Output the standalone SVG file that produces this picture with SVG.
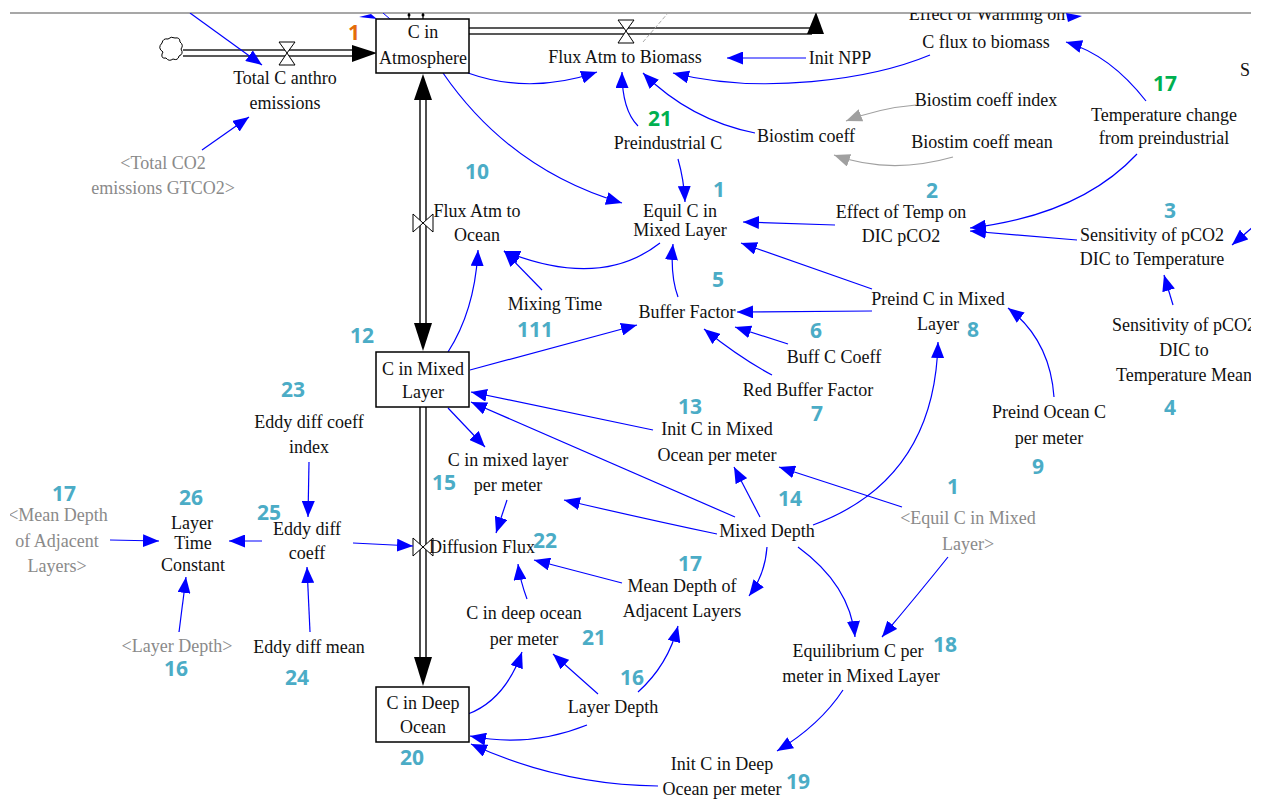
<svg xmlns="http://www.w3.org/2000/svg" width="1261" height="801" viewBox="0 0 1261 801">
<defs>
<style>
.t{font-family:"Liberation Serif","Times New Roman",serif;font-size:18px;fill:#111;text-anchor:middle}
.gt{fill:#8a8a8a}
.n{font-family:"Open Sans","Liberation Sans",sans-serif;font-weight:bold;font-size:21px;fill:#4bacc6;text-anchor:middle}
.or{fill:#e46c0a}
.gr{fill:#00b050}
.a{fill:none;stroke:#0000ff;stroke-width:1.2;marker-end:url(#ah)}
.ag{fill:none;stroke:#a0a0a0;stroke-width:1.2;marker-end:url(#ahg)}
.stock{fill:#fff;stroke:#000;stroke-width:1.5}
.pipe{stroke:#222;stroke-width:1.6;fill:none}
.valve{fill:#fff;stroke:#000;stroke-width:1}
.head{fill:#000}
</style>
<marker id="ah" markerUnits="userSpaceOnUse" markerWidth="17" markerHeight="13" refX="16" refY="6.5" orient="auto"><path d="M0,0 L16,6.5 L0,13 z" fill="#0000ff"/></marker>
<marker id="ahg" markerUnits="userSpaceOnUse" markerWidth="17" markerHeight="13" refX="16" refY="6.5" orient="auto"><path d="M0,0 L16,6.5 L0,13 z" fill="#a0a0a0"/></marker>
<clipPath id="clip"><rect x="10" y="13" width="1241" height="788"/></clipPath>
</defs>
<rect x="0" y="0" width="1261" height="801" fill="#fff"/>
<line x1="10" y1="13" x2="1251" y2="13" stroke="#8a8a8a" stroke-width="1.5"/>
<g clip-path="url(#clip)">

<g id="flows">
<path id="cloud" d="M163,52 q-6,-4 -1,-9 q1,-5 6,-4 q3,-3 7,-1 q5,-1 5,4 q4,3 1,7 q3,5 -2,7 q-1,5 -6,3 q-4,3 -7,-1 q-5,1 -4,-4 z" fill="#fff" stroke="#000" stroke-width="1"/>
<line class="pipe" x1="183" y1="50" x2="355" y2="50"/>
<line class="pipe" x1="183" y1="56" x2="355" y2="56"/>
<polygon class="head" points="352,45 377,53 352,62"/>
<polygon class="valve" points="279,42 295,42 287,53 295,65 279,65 287,53"/>
<line class="pipe" x1="469" y1="28" x2="812" y2="28"/>
<line class="pipe" x1="469" y1="34" x2="812" y2="34"/>
<polygon class="head" points="807,34 824,34 816,12"/>
<polygon class="valve" points="618,20 634,20 626,31 634,43 618,43 626,31"/>
<line x1="643" y1="42" x2="668" y2="13" stroke="#aaa" stroke-width="1" stroke-dasharray="4,2"/>
<line class="pipe" x1="420" y1="90" x2="420" y2="330"/>
<line class="pipe" x1="426" y1="90" x2="426" y2="330"/>
<polygon class="head" points="414,100 432,100 423,74"/>
<polygon class="head" points="414,323 432,323 423,351"/>
<polygon class="valve" points="413,214 413,232 423,223 433,214 433,232 423,223"/>
<line class="pipe" x1="420" y1="407" x2="420" y2="665"/>
<line class="pipe" x1="426" y1="407" x2="426" y2="665"/>
<polygon class="head" points="414,657 432,657 423,686"/>
<polygon class="valve" points="413,538 413,556 423,547 433,538 433,556 423,547"/>
<line x1="409" y1="13" x2="409" y2="19" stroke="#000" stroke-width="1.2"/>
<line x1="423" y1="13" x2="423" y2="19" stroke="#000" stroke-width="1.2"/>
<circle cx="409" cy="15" r="1.5" fill="#000"/>
<circle cx="423" cy="15" r="1.5" fill="#000"/>
</g>

<g id="connectors">
<path class="a" d="M190,13 L262,65"/>
<path class="a" d="M202,150 L249,117"/>
<path class="a" d="M468,73 Q530,95 597,72"/>
<path class="a" d="M638,126 Q622,110 622,72"/>
<path class="a" d="M755,133 Q690,120 643,73"/>
<path class="a" d="M930,55 C870,80 760,95 673,73"/>
<path class="a" d="M806,58 L727,58"/>
<path class="a" d="M443,73 Q510,170 622,203"/>
<path class="a" d="M678,159 Q684,180 685,202"/>
<path class="a" d="M835,225 L743,222"/>
<path class="a" d="M872,289 L741,243"/>
<path class="a" d="M678,297 Q670,275 673,244"/>
<path class="a" d="M660,243 Q600,290 504,251"/>
<path class="a" d="M542,290 L504,251"/>
<path class="a" d="M448,352 Q475,310 478,250"/>
<path class="a" d="M1146,101 Q1110,55 1066,42"/>
<path class="a" d="M1137,154 Q1080,215 970,228"/>
<path class="a" d="M1077,240 L970,231"/>
<path class="a" d="M1254,226 L1232,245"/>
<path class="ag" d="M916,105 Q880,108 846,121"/>
<path class="ag" d="M953,157 Q890,175 834,155"/>
<path class="a" d="M470,370 L637,325"/>
<path class="a" d="M872,311 L737,312"/>
<path class="a" d="M788,344 L735,327"/>
<path class="a" d="M772,375 Q740,358 704,329"/>
<path class="a" d="M1054,397 Q1050,340 1008,308"/>
<path class="a" d="M1173,305 L1164,275"/>
<path class="a" d="M653,430 L471,392"/>
<path class="a" d="M735,517 L471,402"/>
<path class="a" d="M760,517 L734,467"/>
<path class="a" d="M717,534 Q650,520 564,500"/>
<path class="a" d="M813,525 Q935,480 938,342"/>
<path class="a" d="M902,507 L779,467"/>
<path class="a" d="M448,408 L485,447"/>
<path class="a" d="M507,500 L496,533"/>
<path class="a" d="M309,462 L308,517"/>
<path class="a" d="M353,543 L413,546"/>
<path class="a" d="M262,541 L229,541"/>
<path class="a" d="M110,540 L159,541"/>
<path class="a" d="M179,632 L186,577"/>
<path class="a" d="M310,632 L307,567"/>
<path class="a" d="M622,583 L534,560"/>
<path class="a" d="M527,599 Q520,580 518,564"/>
<path class="a" d="M767,547 Q765,575 749,596"/>
<path class="a" d="M798,547 Q850,585 855,637"/>
<path class="a" d="M948,557 Q920,592 882,637"/>
<path class="a" d="M598,694 L553,654"/>
<path class="a" d="M638,692 Q668,665 678,626"/>
<path class="a" d="M468,714 Q505,700 522,652"/>
<path class="a" d="M587,725 Q530,748 470,736"/>
<path class="a" d="M658,786 Q560,785 471,744"/>
<path class="a" d="M843,690 Q820,725 777,751"/>
<polygon points="1066,13 1082,16 1068,22" fill="#0000ff"/>
<polygon points="359,17 371,14 377,19" fill="#0000ff"/>
<line x1="383" y1="13" x2="390" y2="19" stroke="#0000ff" stroke-width="1"/>
</g>

<g id="c_atm"><rect class="stock" x="376" y="19" width="93" height="54"/><text class="t" x="423" y="38">C in</text><text class="t" x="423" y="64">Atmosphere</text><text class="n or" x="354" y="40">1</text></g>
<g id="c_mixed"><rect class="stock" x="376" y="352" width="93" height="55"/><text class="t" x="423" y="375">C in Mixed</text><text class="t" x="423" y="398">Layer</text><text class="n" x="362" y="343">12</text></g>
<g id="c_deep"><rect class="stock" x="376" y="687" width="93" height="55"/><text class="t" x="423" y="709">C in Deep</text><text class="t" x="423" y="733">Ocean</text><text class="n" x="412" y="765">20</text></g>

<g id="total_c_anthro"><text class="t" x="285" y="84">Total C anthro</text><text class="t" x="285" y="109">emissions</text></g>
<g id="total_co2"><text class="t gt" x="163" y="169">&lt;Total CO2</text><text class="t gt" x="163" y="194">emissions GTCO2&gt;</text></g>
<g id="flux_biomass"><text class="t" x="625" y="63">Flux Atm to Biomass</text></g>
<g id="init_npp"><text class="t" x="840" y="64">Init NPP</text></g>
<g id="effect_warming"><text class="t" x="987" y="20">Effect of Warming on</text><text class="t" x="986" y="48">C flux to biomass</text></g>
<g id="biostim_index"><text class="t" x="986" y="106">Biostim coeff index</text></g>
<g id="biostim_coeff"><text class="t" x="806" y="142">Biostim coeff</text></g>
<g id="biostim_mean"><text class="t" x="982" y="148">Biostim coeff mean</text></g>
<g id="preindustrial_c"><text class="t" x="668" y="149">Preindustrial C</text><text class="n gr" x="660" y="126">21</text></g>
<g id="temp_change"><text class="t" x="1164" y="121">Temperature change</text><text class="t" x="1164" y="144">from preindustrial</text><text class="n gr" x="1165" y="91">17</text></g>
<g id="s_cut"><text class="t" x="1240" y="76" style="text-anchor:start">S</text></g>
<g id="flux_ocean"><text class="t" x="477" y="217">Flux Atm to</text><text class="t" x="477" y="241">Ocean</text><text class="n" x="477" y="179">10</text></g>
<g id="equil_c"><text class="t" x="680" y="217">Equil C in</text><text class="t" x="680" y="236">Mixed Layer</text><text class="n" x="719" y="197">1</text></g>
<g id="effect_temp"><text class="t" x="901" y="218">Effect of Temp on</text><text class="t" x="901" y="242">DIC pCO2</text><text class="n" x="932" y="198">2</text></g>
<g id="sensitivity"><text class="t" x="1152" y="241">Sensitivity of pCO2</text><text class="t" x="1152" y="265">DIC to Temperature</text><text class="n" x="1170" y="218">3</text></g>
<g id="mixing_time"><text class="t" x="555" y="310">Mixing Time</text><text class="n" x="535" y="337">111</text></g>
<g id="buffer_factor"><text class="t" x="687" y="318">Buffer Factor</text><text class="n" x="718" y="287">5</text></g>
<g id="preind_c_mixed"><text class="t" x="938" y="305">Preind C in Mixed</text><text class="t" x="938" y="330">Layer</text><text class="n" x="973" y="337">8</text></g>
<g id="buff_c_coeff"><text class="t" x="834" y="363">Buff C Coeff</text><text class="n" x="816" y="338">6</text></g>
<g id="red_buffer"><text class="t" x="808" y="396">Red Buffer Factor</text><text class="n" x="817" y="421">7</text></g>
<g id="sens_mean"><text class="t" x="1184" y="331">Sensitivity of pCO2</text><text class="t" x="1184" y="356">DIC to</text><text class="t" x="1184" y="381">Temperature Mean</text><text class="n" x="1170" y="415">4</text></g>
<g id="preind_ocean"><text class="t" x="1049" y="418">Preind Ocean C</text><text class="t" x="1049" y="444">per meter</text><text class="n" x="1038" y="474">9</text></g>
<g id="eddy_index"><text class="t" x="309" y="428">Eddy diff coeff</text><text class="t" x="309" y="453">index</text><text class="n" x="293" y="397">23</text></g>
<g id="init_c_mixed"><text class="t" x="717" y="435">Init C in Mixed</text><text class="t" x="717" y="461">Ocean per meter</text><text class="n" x="690" y="414">13</text></g>
<g id="c_mixed_pm"><text class="t" x="508" y="466">C in mixed layer</text><text class="t" x="508" y="491">per meter</text><text class="n" x="444" y="490">15</text></g>
<g id="equil_shadow"><text class="t gt" x="968" y="524">&lt;Equil C in Mixed</text><text class="t gt" x="968" y="550">Layer&gt;</text><text class="n" x="953" y="494">1</text></g>
<g id="mixed_depth"><text class="t" x="767" y="537">Mixed Depth</text><text class="n" x="790" y="506">14</text></g>
<g id="mean_depth_shadow"><text class="t gt" x="58" y="521">&lt;Mean Depth</text><text class="t gt" x="57" y="547">of Adjacent</text><text class="t gt" x="57" y="572">Layers&gt;</text><text class="n" x="64" y="501">17</text></g>
<g id="layer_time"><text class="t" x="192" y="529">Layer</text><text class="t" x="193" y="549">Time</text><text class="t" x="193" y="571">Constant</text><text class="n" x="191" y="505">26</text></g>
<g id="eddy_coeff"><text class="t" x="307" y="535">Eddy diff</text><text class="t" x="307" y="559">coeff</text><text class="n" x="269" y="520">25</text></g>
<g id="diffusion_flux"><text class="t" x="482" y="553">Diffusion Flux</text><text class="n" x="545" y="548">22</text></g>
<g id="mean_depth"><text class="t" x="682" y="592">Mean Depth of</text><text class="t" x="682" y="617">Adjacent Layers</text><text class="n" x="690" y="571">17</text></g>
<g id="c_deep_pm"><text class="t" x="524" y="619">C in deep ocean</text><text class="t" x="524" y="645">per meter</text><text class="n" x="594" y="645">21</text></g>
<g id="layer_depth_shadow"><text class="t gt" x="177" y="652">&lt;Layer Depth&gt;</text><text class="n" x="176" y="676">16</text></g>
<g id="eddy_mean"><text class="t" x="309" y="653">Eddy diff mean</text><text class="n" x="297" y="685">24</text></g>
<g id="equilibrium_c"><text class="t" x="858" y="657">Equilibrium C per</text><text class="t" x="861" y="682">meter in Mixed Layer</text><text class="n" x="945" y="652">18</text></g>
<g id="layer_depth"><text class="t" x="613" y="713">Layer Depth</text><text class="n" x="632" y="685">16</text></g>
<g id="init_c_deep"><text class="t" x="722" y="770">Init C in Deep</text><text class="t" x="722" y="795">Ocean per meter</text><text class="n" x="798" y="789">19</text></g>
</g>
</svg>
